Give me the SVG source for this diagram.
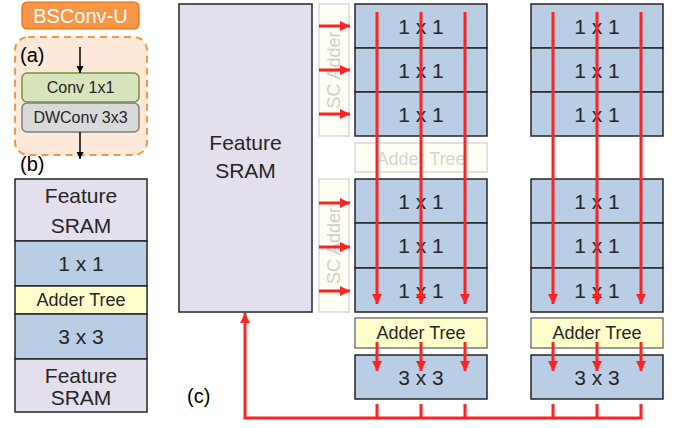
<svg xmlns="http://www.w3.org/2000/svg" width="683" height="428" viewBox="0 0 683 428">
<defs>
<marker id="ra" viewBox="0 0 10 10" refX="10" refY="5" markerWidth="10" markerHeight="10" markerUnits="userSpaceOnUse" orient="auto"><path d="M0,0 L10,5 L0,10 z" fill="#f22"/></marker>
<marker id="ka" viewBox="0 0 10 10" refX="10" refY="5" markerWidth="7" markerHeight="7" markerUnits="userSpaceOnUse" orient="auto"><path d="M0,0 L10,5 L0,10 z" fill="#000"/></marker>
<style>
text{font-family:"Liberation Sans",Arial,sans-serif;fill:#262626;text-anchor:middle}
.sram{fill:#e4dfec;stroke:#262626;stroke-width:1.5}
.blue{fill:#b9cde5;stroke:#262626;stroke-width:1.5}
.yel{fill:#ffffcc;stroke:#595959;stroke-width:1.2}
.fade{fill:#fffff4;stroke:#d9d9d9;stroke-width:1.5}
.ft{fill:#cfcfcf}
.red{stroke:#f22;stroke-width:3;fill:none}
.t21{font-size:21px}
.t18{font-size:18px}
.lab{font-size:20px;text-anchor:start;fill:#000}
</style>
</defs>

<g id="bsconv">
<rect x="22" y="2" width="117" height="27" rx="5" fill="#f79646" stroke="#e46c0a" stroke-width="1.2"/>
<text x="80.5" y="23" style="font-size:20px;fill:#fff">BSConv-U</text>
</g>

<g id="panel-a">
<rect x="15" y="37" width="132" height="118" rx="13" fill="#fde9d9" stroke="#f79646" stroke-width="2" stroke-dasharray="7,5"/>
<text x="20" y="62" class="lab">(a)</text>
<g id="conv1x1"><rect x="22" y="73" width="117" height="29" rx="5" fill="#d7e4bd" stroke="#77933c" stroke-width="1.5"/><text x="80.5" y="93" style="font-size:16px">Conv 1x1</text></g>
<g id="dwconv"><rect x="22" y="103" width="117" height="29" rx="5" fill="#d9d9d9" stroke="#7f7f7f" stroke-width="1.5"/><text x="80.5" y="123" style="font-size:16px">DWConv 3x3</text></g>
</g>

<text x="20" y="171" class="lab">(b)</text>
<g id="panel-b">
<g id="b-sram1"><rect x="15" y="179" width="132" height="62" class="sram"/><text x="81" y="203" class="t21">Feature</text><text x="81" y="233" class="t21">SRAM</text></g>
<g id="b-1x1"><rect x="15" y="241" width="132" height="45" class="blue"/><text x="81" y="271" class="t21">1 x 1</text></g>
<g id="b-adder"><rect x="15" y="286" width="132" height="28" class="yel" style="stroke:#262626;stroke-width:1.5"/><text x="81" y="306" class="t18">Adder Tree</text></g>
<g id="b-3x3"><rect x="15" y="314" width="132" height="45" class="blue"/><text x="81" y="344" class="t21">3 x 3</text></g>
<g id="b-sram2"><rect x="15" y="359" width="132" height="53" class="sram"/><text x="81" y="383" class="t21">Feature</text><text x="81" y="405" class="t21">SRAM</text></g>
</g>

<g id="c-sram"><rect x="179" y="4" width="133" height="308" class="sram"/><text x="245.5" y="150" class="t21">Feature</text><text x="245.5" y="178" class="t21">SRAM</text></g>

<g id="sc-adder-1"><rect x="319" y="4" width="30" height="132" class="fade"/><text transform="translate(340,70) rotate(-90)" class="ft" style="font-size:18px">SC Adder</text></g>
<g id="sc-adder-2"><rect x="319" y="179" width="30" height="133" class="fade"/><text transform="translate(340,245.5) rotate(-90)" class="ft" style="font-size:18px">SC Adder</text></g>

<g id="col1-top">
<rect x="355" y="4" width="132" height="44" class="blue"/><text x="421" y="34" class="t21">1 x 1</text>
<rect x="355" y="48" width="132" height="44" class="blue"/><text x="421" y="78" class="t21">1 x 1</text>
<rect x="355" y="92" width="132" height="44" class="blue"/><text x="421" y="122" class="t21">1 x 1</text>
</g>
<g id="col1-adder-faded"><rect x="355" y="143" width="132" height="29" class="fade"/><text x="421" y="165" class="t18 ft" style="fill:#d6d6d6">Adder Tree</text></g>
<g id="col1-bottom">
<rect x="355" y="179" width="132" height="44" class="blue"/><text x="421" y="209" class="t21">1 x 1</text>
<rect x="355" y="223" width="132" height="45" class="blue"/><text x="421" y="253" class="t21">1 x 1</text>
<rect x="355" y="268" width="132" height="44" class="blue"/><text x="421" y="298" class="t21">1 x 1</text>
</g>
<g id="col1-adder"><rect x="355" y="318" width="132" height="30" class="yel"/><text x="421" y="339" class="t18">Adder Tree</text></g>
<g id="col1-3x3"><rect x="355" y="355" width="132" height="44" class="blue"/><text x="421" y="385" class="t21">3 x 3</text></g>

<g id="col2-top">
<rect x="531" y="4" width="132" height="44" class="blue"/><text x="597" y="34" class="t21">1 x 1</text>
<rect x="531" y="48" width="132" height="44" class="blue"/><text x="597" y="78" class="t21">1 x 1</text>
<rect x="531" y="92" width="132" height="44" class="blue"/><text x="597" y="122" class="t21">1 x 1</text>
</g>
<g id="col2-bottom">
<rect x="531" y="179" width="132" height="44" class="blue"/><text x="597" y="209" class="t21">1 x 1</text>
<rect x="531" y="223" width="132" height="45" class="blue"/><text x="597" y="253" class="t21">1 x 1</text>
<rect x="531" y="268" width="132" height="44" class="blue"/><text x="597" y="298" class="t21">1 x 1</text>
</g>
<g id="col2-adder"><rect x="531" y="318" width="132" height="30" class="yel"/><text x="597" y="339" class="t18">Adder Tree</text></g>
<g id="col2-3x3"><rect x="531" y="355" width="132" height="44" class="blue"/><text x="597" y="385" class="t21">3 x 3</text></g>

<text x="187" y="403" class="lab">(c)</text>

<g id="connectors">
<line x1="80" y1="47" x2="80" y2="73" stroke="#000" stroke-width="1.5" marker-end="url(#ka)"/>
<line x1="80" y1="132" x2="80" y2="159" stroke="#000" stroke-width="1.5" marker-end="url(#ka)"/>

<line x1="319" y1="26" x2="350" y2="26" class="red" marker-end="url(#ra)"/>
<line x1="319" y1="70" x2="350" y2="70" class="red" marker-end="url(#ra)"/>
<line x1="319" y1="114" x2="350" y2="114" class="red" marker-end="url(#ra)"/>
<line x1="319" y1="203" x2="350" y2="203" class="red" marker-end="url(#ra)"/>
<line x1="319" y1="247" x2="350" y2="247" class="red" marker-end="url(#ra)"/>
<line x1="319" y1="291" x2="350" y2="291" class="red" marker-end="url(#ra)"/>

<line x1="377" y1="12" x2="377" y2="304" class="red" marker-end="url(#ra)"/>
<line x1="421" y1="12" x2="421" y2="304" class="red" marker-end="url(#ra)"/>
<line x1="465" y1="12" x2="465" y2="304" class="red" marker-end="url(#ra)"/>
<line x1="553" y1="12" x2="553" y2="304" class="red" marker-end="url(#ra)"/>
<line x1="597" y1="12" x2="597" y2="304" class="red" marker-end="url(#ra)"/>
<line x1="641" y1="12" x2="641" y2="304" class="red" marker-end="url(#ra)"/>

<line x1="377" y1="342" x2="377" y2="371" class="red" marker-end="url(#ra)"/>
<line x1="421" y1="342" x2="421" y2="371" class="red" marker-end="url(#ra)"/>
<line x1="465" y1="342" x2="465" y2="371" class="red" marker-end="url(#ra)"/>
<line x1="553" y1="342" x2="553" y2="371" class="red" marker-end="url(#ra)"/>
<line x1="597" y1="342" x2="597" y2="371" class="red" marker-end="url(#ra)"/>
<line x1="641" y1="342" x2="641" y2="371" class="red" marker-end="url(#ra)"/>

<path d="M377,404 V418 M421,404 V418 M465,404 V418 M553,404 V418 M597,404 V418 M641,404 V418" class="red"/>
<path d="M642.5,418 H245 V313" class="red" marker-end="url(#ra)"/>
</g>
</svg>
